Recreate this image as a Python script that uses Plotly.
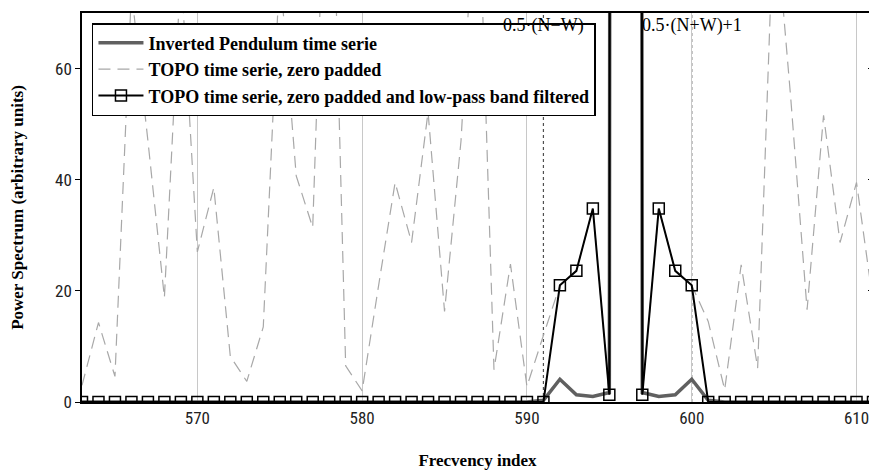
import plotly.graph_objects as go

# Frequency index (x categories)
freq_index = list(range(563, 612))

# Inverted Pendulum time serie (power spectrum)
pendulum = [0]*28 + [0.3, 4.1, 1.3, 1.0, 1.7, 3000, 1.7, 1.0, 1.3, 4.1, 0.3] + [0]*10

# TOPO time serie, zero padded
topo_padded = [3.0, 14.3, 4.6, 74, 47, 18.8, 78, 27, 38.6, 8.2,
               3.7, 13.5, 78, 40.7, 31.4, 120, 6.5, 2.0, 21, 39.5,
               28.7, 52.2, 16.3, 47, 100, 5.8, 24.8, 2.8, 12, 21.0,
               23.6, 34.8, 1.3, 3000, 1.3, 34.8, 23.6, 21.0, 14.5, 2.2,
               24.7, 6.1, 90, 55, 16.6, 51.6, 28.7, 39.5, 18]

# TOPO time serie, zero padded and low-pass band filtered
topo_filtered = [0]*28 + [0, 21.0, 23.6, 34.8, 1.3, 3000, 1.3, 34.8, 23.6, 21.0, 0] + [0]*10

# Band markers
band_lines = [591, 600]
band_labels = ["0.5·(N−W)", "0.5·(N+W)+1"]

y_ticks = [0, 20, 40, 60]

serif = "Liberation Serif, Times New Roman, serif"
narrow = "Liberation Sans Narrow, Roboto Condensed, Roboto, sans-serif"

fig = go.Figure()

fig.add_trace(go.Scatter(
    x=freq_index, y=topo_padded, mode="lines",
    name="TOPO time serie, zero padded",
    line=dict(color="#a8a8a8", width=1.2, dash="12px,7px"),
    legendrank=2,
))
fig.add_trace(go.Scatter(
    x=freq_index, y=pendulum, mode="lines",
    name="Inverted Pendulum time serie",
    line=dict(color="#606060", width=3.5),
    legendrank=1,
))
fig.add_trace(go.Scatter(
    x=freq_index, y=topo_filtered, mode="lines+markers",
    name="TOPO time serie, zero padded and low-pass band filtered",
    line=dict(color="#000000", width=2),
    marker=dict(symbol="square-open", size=11, color="#000000",
                line=dict(width=1.5, color="#000000")),
    legendrank=3,
))
# invisible trace for the right-side mirrored axis
fig.add_trace(go.Scatter(x=[freq_index[0]], y=[0], yaxis="y2", mode="markers",
                         marker=dict(opacity=0), showlegend=False, hoverinfo="skip"))

for xv, lab in zip(band_lines, band_labels):
    fig.add_shape(type="line", xref="x", yref="paper", x0=xv, x1=xv, y0=0, y1=1,
                  line=dict(color="#505050", width=1.2, dash="dot"), layer="below")
    fig.add_annotation(x=xv, y=67.8, xref="x", yref="y", text=lab, showarrow=False,
                       font=dict(family=serif, size=18, color="#000"),
                       xanchor="center", yanchor="middle")

# page body has an 8px margin, so the figure is sized/offset to compensate
fig.update_layout(
    width=869, height=462,
    margin=dict(l=74, r=4, t=5, b=68, autoexpand=False),
    paper_bgcolor="white", plot_bgcolor="white",
    showlegend=True,
    legend=dict(
        x=0.0126, y=0.974, xanchor="left", yanchor="top",
        bgcolor="white", bordercolor="#000", borderwidth=1.5,
        font=dict(family=serif, size=18, color="#000", weight="bold"),
        tracegroupgap=0, itemwidth=45,
    ),
    xaxis=dict(
        range=[563, 611], tick0=570, dtick=10, automargin=False,
        showgrid=True, gridcolor="#c8c8c8", gridwidth=1,
        zeroline=False, showline=True, linecolor="#000", linewidth=1.5, mirror=True,
        ticks="", tickfont=dict(family=narrow, size=17, color="#222"),
        title=dict(text="Frecvency index", standoff=30,
                   font=dict(family=serif, size=17, color="#000", weight="bold")),
    ),
    yaxis=dict(
        range=[0, 70], tickvals=y_ticks, automargin=False,
        showgrid=False, zeroline=False,
        showline=True, linecolor="#000", linewidth=1.5, mirror=True,
        ticks="outside", ticklen=5, tickcolor="#000",
        tickfont=dict(family=narrow, size=17, color="#222"),
        title=dict(text="Power Spectrum (arbitrary units)", standoff=28,
                   font=dict(family=serif, size=17, color="#000", weight="bold")),
    ),
    yaxis2=dict(
        overlaying="y", side="right", range=[0, 70], tickvals=y_ticks,
        showticklabels=False, showgrid=False, zeroline=False, automargin=False,
        ticks="inside", ticklen=5, tickcolor="#000",
    ),
)

fig.write_html("out.html")
